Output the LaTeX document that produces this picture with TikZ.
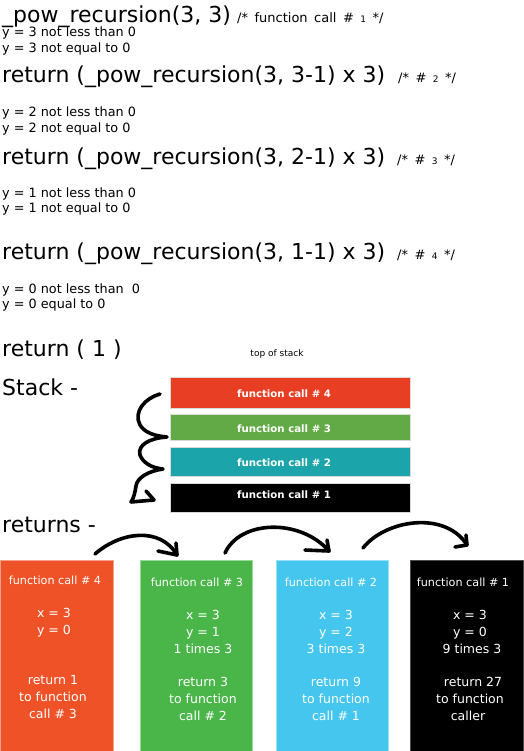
\documentclass[tikz,border=0pt]{standalone}
\usepackage{fontspec}
\setmainfont{DejaVu Sans}
\definecolor{stackred}{HTML}{E83E24}
\definecolor{stackgreen}{HTML}{62AA46}
\definecolor{stackteal}{HTML}{1BA4AA}
\definecolor{boxorange}{HTML}{F05228}
\definecolor{boxgreen}{HTML}{4AB64A}
\definecolor{boxblue}{HTML}{45C6EE}
\begin{document}
\begin{tikzpicture}[x=1pt,y=-1pt,
  big/.style={font=\fontsize{22}{26}\selectfont, inner sep=0pt, anchor=base west},
  small/.style={font=\fontsize{12.8}{15}\selectfont, inner sep=0pt, anchor=base west},
  cmt/.style={font={\fontsize{13}{15}\selectfont\spaceskip=6.5pt\relax}, inner sep=0pt, anchor=base west},
  bar/.style={draw=black!15, line width=0.8pt, minimum width=240, inner sep=0pt},
  barlabel/.style={text=white, font=\bfseries\fontsize{10.2}{12}\selectfont, inner sep=0pt, anchor=base},
  retbox/.style={line width=0.8pt, minimum width=112, minimum height=191, inner sep=0pt},
  hdr/.style={text=white, font=\fontsize{11.2}{13}\selectfont, inner sep=0pt, anchor=base},
  btx/.style={text=white, font=\fontsize{12.5}{15}\selectfont, inner sep=0pt, anchor=base},
  brush/.style={line width=3.6pt, line cap=round, line join=round}]
\useasboundingbox (0,0) rectangle (523,751);
\fill[white] (0,0) rectangle (523,751);

% code trace
\node[big] (l1) at (2,23) {\_pow\_recursion(3, 3)};
\node[cmt] (c1) at (237,23) {/* function call \# {\fontsize{9}{10}\selectfont 1} */};
\node[small] (t1a) at (2,37) {y = 3 not less than 0};
\node[small] (t1b) at (2,53) {y = 3 not equal to 0};
\node[big] (l2) at (2,83) {return (\_pow\_recursion(3, 3-1) x 3)};
\node[cmt] (c2) at (398,83) {/* \# {\fontsize{9}{10}\selectfont 2} */};
\node[small] (t2a) at (2,117) {y = 2 not less than 0};
\node[small] (t2b) at (2,133) {y = 2 not equal to 0};
\node[big] (l3) at (2,165) {return (\_pow\_recursion(3, 2-1) x 3)};
\node[cmt] (c3) at (397,165) {/* \# {\fontsize{9}{10}\selectfont 3} */};
\node[small] (t3a) at (2,197) {y = 1 not less than 0};
\node[small] (t3b) at (2,213) {y = 1 not equal to 0};
\node[big] (l4) at (2,259) {return (\_pow\_recursion(3, 1-1) x 3)};
\node[cmt] (c4) at (397,259) {/* \# {\fontsize{9}{10}\selectfont 4} */};
\node[small] (t4a) at (2,293) {y = 0 not less than\ \ 0};
\node[small] (t4b) at (2,308) {y = 0 equal to 0};
\node[big] (l5) at (2,356) {return ( 1 )};
\node[font=\fontsize{9}{11}\selectfont, inner sep=0pt, anchor=base] (tos) at (277,356) {top of stack};
\node[big] (stk) at (2,395) {Stack -};
\node[big] (ret) at (2,532) {returns -};

% stack bars
\node[bar, fill=stackred, minimum height=31] (s4) at (290,392.5) {};
\node[bar, fill=stackgreen, minimum height=26] (s3) at (290,427) {};
\node[bar, fill=stackteal, minimum height=29] (s2) at (290,461.5) {};
\node[bar, fill=black, minimum height=29] (s1) at (290,497.5) {};
\node[barlabel] (s4l) at (284,397) {function call \# 4};
\node[barlabel] (s3l) at (284,432) {function call \# 3};
\node[barlabel] (s2l) at (284,466) {function call \# 2};
\node[barlabel] (s1l) at (284,498) {function call \# 1};

% brace
\coordinate (bs) at (160,394);
\coordinate (be) at (154,500);
\draw[brush] (bs) .. controls (145,398) and (133,412) .. (140,425)
  .. controls (145,433) and (155,436) .. (167,437)
  .. controls (150,438) and (137,445) .. (140,455)
  .. controls (143,463) and (152,468) .. (163,469)
  .. controls (148,471) and (137,478) .. (136,486)
  .. controls (135,492) and (134,498) .. (131,502) -- (be);
\draw[brush] (146,491) -- (be);

% return boxes
\node[retbox, fill=boxorange, draw=boxorange!55, minimum width=113] (r4) at (56.5,655.5) {};
\node[retbox, fill=boxgreen, draw=boxgreen!55] (r3) at (196,655.5) {};
\node[retbox, fill=boxblue, draw=boxblue!55] (r2) at (332,655.5) {};
\node[retbox, fill=black, draw=black!70, minimum width=113] (r1) at (466.5,655.5) {};

\node[hdr] (h4) at (55,584) {function call \# 4};
\node[btx] (x4) at (54,617) {x = 3};
\node[btx] (y4) at (54,634) {y = 0};
\node[btx] (ra4) at (53,684) {return 1};
\node[btx] (rb4) at (53,701) {to function};
\node[btx] (rc4) at (53,718) {call \# 3};

\node[hdr] (h3) at (197,586) {function call \# 3};
\node[btx] (x3) at (203,619) {x = 3};
\node[btx] (y3) at (203,636) {y = 1};
\node[btx] (m3) at (203,653) {1 times 3};
\node[btx] (ra3) at (203,686) {return 3};
\node[btx] (rb3) at (203,703) {to function};
\node[btx] (rc3) at (203,720) {call \# 2};

\node[hdr] (h2) at (331,586) {function call \# 2};
\node[btx] (x2) at (336,619) {x = 3};
\node[btx] (y2) at (336,636) {y = 2};
\node[btx] (m2) at (336,653) {3 times 3};
\node[btx] (ra2) at (336,686) {return 9};
\node[btx] (rb2) at (336,703) {to function};
\node[btx] (rc2) at (336,720) {call \# 1};

\node[hdr] (h1) at (463,586) {function call \# 1};
\node[btx] (x1) at (470,619) {x = 3};
\node[btx] (y1) at (470,636) {y = 0};
\node[btx] (m1) at (472,653) {9 times 3};
\node[btx] (ra1) at (473,686) {return 27};
\node[btx] (rb1) at (470,703) {to function};
\node[btx] (rc1) at (468,720) {caller};

% return arrows
\coordinate (a1s) at (95,554);  \coordinate (a1e) at (177,555);
\coordinate (a2s) at (225,553); \coordinate (a2e) at (329,551);
\coordinate (a3s) at (363,548); \coordinate (a3e) at (467,545);
\draw[brush] (a1s) .. controls (120,532) and (160,526) .. (a1e);
\draw[brush] (158,551) -- (a1e) -- (176,543);
\draw[brush] (a2s) .. controls (240,520) and (300,518) .. (a2e);
\draw[brush] (305,550) -- (a2e) -- (327,540);
\draw[brush] (a3s) .. controls (385,520) and (445,510) .. (a3e);
\draw[brush] (455,547) -- (a3e) -- (466,535);
\end{tikzpicture}
\end{document}
